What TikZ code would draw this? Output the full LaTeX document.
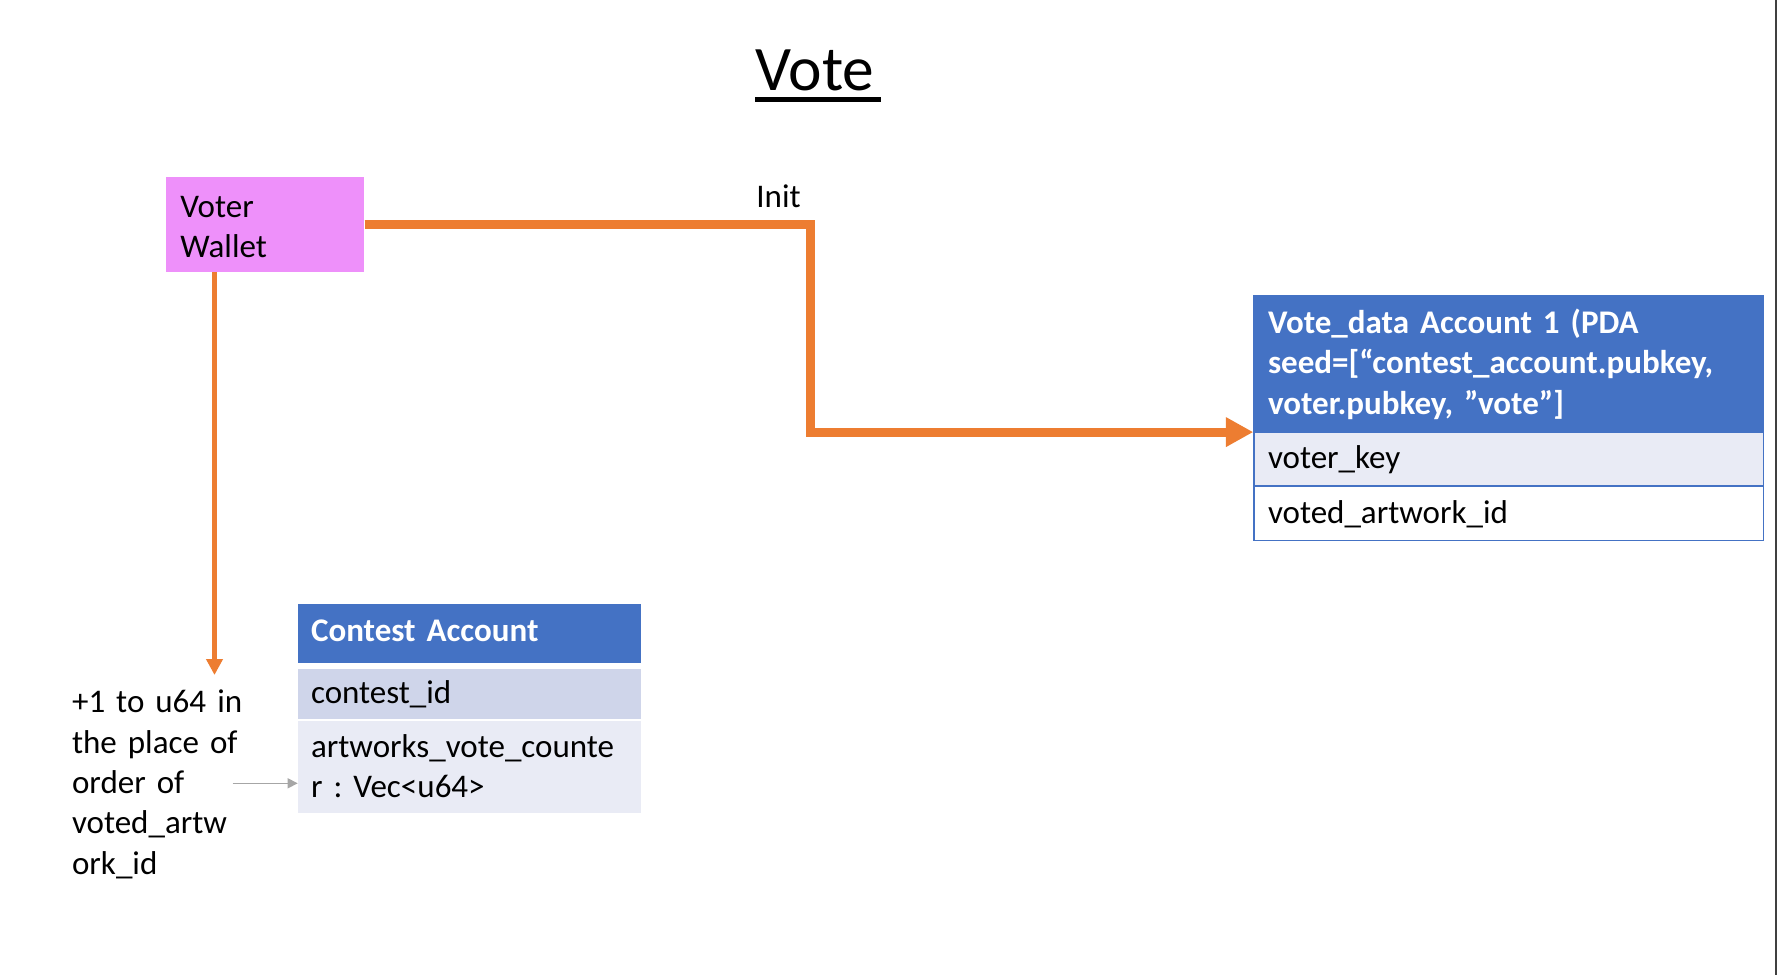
\documentclass[tikz,border=0pt]{standalone}
\usepackage{fontspec}
\setmainfont{Carlito}
\usepackage{tikz}
\usetikzlibrary{arrows.meta, positioning}

\definecolor{hdrblue}{HTML}{4472C4}
\definecolor{rowpale}{HTML}{E9EBF5}
\definecolor{rowmid}{HTML}{CFD5EA}
\definecolor{walletpink}{HTML}{EE90FA}
\definecolor{initorange}{HTML}{ED7D31}
\definecolor{notegray}{HTML}{A6A6A6}
\definecolor{edgegray}{HTML}{404040}

\begin{document}
\frenchspacing
\begin{tikzpicture}[x=0.02cm, y=-0.02cm,
    font=\fontsize{18.8}{23}\selectfont,
    cell/.style={rectangle, anchor=north west, inner ysep=0pt, align=left},
    vdcell/.style={cell, draw=hdrblue, line width=0.8pt, inner xsep=0.28cm, text width=9.628cm},
    cacell/.style={cell, inner xsep=0.26cm, text width=6.34cm},
    hdr/.style={fill=hdrblue, text=white, font=\fontsize{18.8}{23}\selectfont\bfseries},
    txt/.style={anchor=base west, inner sep=0pt}]
    \useasboundingbox (0, 0) rectangle (1778, 975);
    % slide edge
    \draw[edgegray, line width=1.4pt] (1776, 0) -- (1776, 975);
    % title
    \node[txt, font=\fontsize{36.1}{43}\selectfont] (title) at (755, 90) {Vote};
    \draw[line width=2.3pt] (755, 99.5) -- (881, 99.5);
    % wallet
    \node[cell, fill=walletpink, inner xsep=0.28cm, text width=3.4cm,
        text height=0.806cm, text depth=1.094cm] (wallet) at (166, 176.7) {Voter\\Wallet};
    % vote data account
    \node[vdcell, hdr, text height=0.76cm, text depth=1.96cm] (vdHead) at (1253.3, 294.7)
        {Vote\_data Account 1 (PDA\\seed=[“contest\_account.pubkey,\\voter.pubkey, ”vote”]};
    \node[vdcell, fill=rowpale, text height=0.72cm, text depth=0.332cm] (vdKey) at (vdHead.south west) {voter\_key};
    \node[vdcell, fill=white, text height=0.734cm, text depth=0.346cm] (vdArt) at (vdKey.south west) {voted\_artwork\_id};
    % contest account
    \node[cacell, hdr, text height=0.734cm, text depth=0.44cm] (caHead) at (297.7, 604) {Contest Account};
    \node[cacell, fill=rowmid, text height=0.692cm, text depth=0.30cm] (caId) at (297.7, 668.7) {contest\_id};
    \node[cacell, fill=rowpale, text height=0.72cm, text depth=1.12cm] (caCnt) at (297.7, 720.7)
        {artworks\_vote\_counte\\r : Vec<u64>};
    % labels
    \node[txt] (init) at (756, 207.3) {Init};
    \node[txt, align=left, text width=4cm] (note) at (71.7, 712.7)
        {+1 to u64 in\\the place of\\order of\\voted\_artw\\ork\_id};
    \coordinate (tally) at (214.5, 675);
    \coordinate (pick) at (232.7, 783.3);
    % connectors
    \draw[initorange, line width=5.1pt, -{Triangle[length=0.55cm, width=0.56cm]}]
        (wallet.east) -- ++(445.5, 0) |- (vdHead.south west);
    \draw[initorange, line width=3pt, -{Triangle[length=0.32cm, width=0.32cm]}]
        (wallet.south -| tally) -- (tally);
    \draw[notegray, line width=0.8pt, -{Triangle[length=0.2cm, width=0.2cm]}]
        (pick) -- (pick -| caCnt.west);
\end{tikzpicture}
\end{document}
